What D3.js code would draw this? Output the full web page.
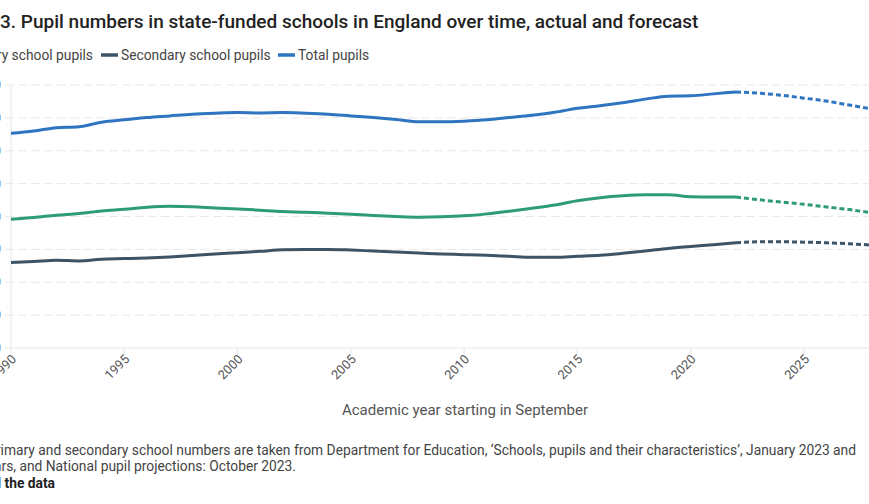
<!DOCTYPE html>
<html>
<head>
<meta charset="utf-8">
<script src="https://cdn.jsdelivr.net/npm/d3@7"></script>
<style>
  html, body { margin: 0; padding: 0; background: #fff; overflow: hidden; }
  svg { display: block; font-family: Roboto, "Noto Sans", sans-serif; }
</style>
</head>
<body>
<svg id="chart" width="869" height="504"></svg>
<script>
// pupil numbers, millions
const years = d3.range(1990, 2029);
const lastActual = 2022;

const primary = [3.92, 3.97, 4.04, 4.09, 4.17, 4.22, 4.28, 4.31, 4.30, 4.26,
  4.23, 4.19, 4.15, 4.13, 4.10, 4.07, 4.03, 4.00, 3.98, 3.99,
  4.02, 4.08, 4.16, 4.25, 4.35, 4.48, 4.57, 4.63, 4.66, 4.66,
  4.60, 4.59, 4.59, 4.51, 4.44, 4.37, 4.29, 4.21, 4.11];

const secondary = [2.60, 2.63, 2.67, 2.65, 2.70, 2.72, 2.74, 2.77, 2.81, 2.86,
  2.90, 2.94, 2.99, 3.00, 3.00, 2.98, 2.95, 2.92, 2.89, 2.86,
  2.84, 2.82, 2.79, 2.76, 2.76, 2.79, 2.82, 2.88, 2.95, 3.03,
  3.09, 3.14, 3.20, 3.23, 3.23, 3.22, 3.20, 3.17, 3.13];

const total = [6.53, 6.60, 6.70, 6.73, 6.87, 6.94, 7.01, 7.06, 7.11, 7.14,
  7.16, 7.15, 7.16, 7.14, 7.11, 7.06, 7.01, 6.95, 6.88, 6.88,
  6.90, 6.94, 7.01, 7.08, 7.17, 7.29, 7.37, 7.46, 7.57, 7.66,
  7.67, 7.73, 7.79, 7.75, 7.69, 7.60, 7.51, 7.39, 7.27];

const seriesNames = ["Primary school pupils", "Secondary school pupils", "Total pupils"];
const seriesColors = ["#2e9c74", "#3d5466", "#2e74c0"];
const yTicks = d3.range(0, 9);
const xTicks = d3.range(1990, 2030, 5);

const series = [primary, secondary, total].map((vals, i) => ({
  name: seriesNames[i],
  color: seriesColors[i],
  values: vals.map((v, j) => ({year: years[j], value: v}))
}));

const svg = d3.select('#chart');

const x = d3.scaleLinear().domain([1990, 2025]).range([11, 804]);
const y = d3.scaleLinear().domain([0, 8]).range([348, 85]);

// title, the left part falls outside the picture
const title = svg.append('text')
  .attr('y', 28)
  .attr('fill', '#222')
  .style('font-size', '19px')
  .style('font-weight', 500);
const pre = title.append('tspan').text('Figure ');
title.append('tspan').text('3. Pupil numbers in state-funded schools in England over time, actual and forecast');
title.attr('x', -pre.node().getComputedTextLength());

// legend
const legendPos = [{sw: -60, tx: 93, anchor: 'end'}, {sw: 101, tx: 121}, {sw: 278, tx: 298}];
const legend = svg.append('g');
series.forEach((s, i) => {
  const p = legendPos[i];
  if (p.anchor === 'end') {
    legend.append('text').attr('x', p.tx).attr('y', 60)
      .attr('text-anchor', 'end').attr('fill', '#444')
      .style('font-size', '13.8px').text(s.name);
  } else {
    legend.append('line').attr('x1', p.sw).attr('x2', p.sw + 17)
      .attr('y1', 55).attr('y2', 55)
      .attr('stroke', s.color).attr('stroke-width', 3.5);
    legend.append('text').attr('x', p.tx).attr('y', 60)
      .attr('fill', '#444').style('font-size', '13.8px').text(s.name);
  }
});

// grid
svg.append('g').selectAll('line')
  .data(yTicks.filter(d => d > 0))
  .join('line')
  .attr('x1', 5).attr('x2', 869)
  .attr('y1', d => y(d)).attr('y2', d => y(d))
  .attr('stroke', '#e8e8e8')
  .attr('stroke-dasharray', '9,4');

// y axis labels (cut off on the left)
svg.append('g').selectAll('text')
  .data(yTicks)
  .join('text')
  .attr('x', 1).attr('y', d => y(d) + 4)
  .attr('text-anchor', 'end')
  .attr('fill', '#555')
  .style('font-size', '12.5px')
  .text(d => d3.format(',')(d * 1000000));

svg.append('line')
  .attr('x1', x(1990)).attr('x2', x(1990))
  .attr('y1', y(8)).attr('y2', y(0))
  .attr('stroke', '#e6e6e6');

// x axis
svg.append('line')
  .attr('x1', 5).attr('x2', 869)
  .attr('y1', y(0)).attr('y2', y(0))
  .attr('stroke', '#e6e6e6');

svg.append('g').selectAll('line')
  .data(xTicks)
  .join('line')
  .attr('x1', d => x(d)).attr('x2', d => x(d))
  .attr('y1', y(0)).attr('y2', y(0) + 6)
  .attr('stroke', '#e6e6e6');

svg.append('g').selectAll('text')
  .data(xTicks)
  .join('text')
  .attr('transform', d => `translate(${x(d) + 6},${y(0) + 12}) rotate(-45)`)
  .attr('text-anchor', 'end')
  .attr('fill', '#555')
  .style('font-size', '12.8px')
  .text(d => d);

svg.append('text')
  .attr('x', 465).attr('y', 415)
  .attr('text-anchor', 'middle')
  .attr('fill', '#555')
  .style('font-size', '15px')
  .text('Academic year starting in September');

// lines
const line = d3.line().curve(d3.curveMonotoneX).x(d => x(d.year)).y(d => y(d.value));
const lines = svg.append('g');
series.forEach(s => {
  lines.append('path')
    .datum(s.values.filter(d => d.year <= lastActual))
    .attr('d', line)
    .attr('fill', 'none')
    .attr('stroke', s.color)
    .attr('stroke-width', 3)
    .attr('stroke-linejoin', 'round');
  lines.append('path')
    .datum(s.values.filter(d => d.year >= lastActual))
    .attr('d', line)
    .attr('fill', 'none')
    .attr('stroke', s.color)
    .attr('stroke-width', 3)
    .attr('stroke-dasharray', '5,3');
});

// source notes
const notes = [
  {text: 'Source: Primary and secondary school numbers are taken from Department for Education, \u2018Schools, pupils and their characteristics\u2019, January 2023 and', end: 856, y: 455, bold: false},
  {text: 'earlier years, and National pupil projections: October 2023.', end: 296, y: 471, bold: false},
  {text: 'Download the data', end: 55, y: 488, bold: true}
];
svg.append('g').selectAll('text')
  .data(notes)
  .join('text')
  .attr('x', d => d.end).attr('y', d => d.y)
  .attr('text-anchor', 'end')
  .attr('fill', d => d.bold ? '#222' : '#444')
  .style('font-size', '13.8px')
  .style('font-weight', d => d.bold ? 700 : 400)
  .text(d => d.text);
</script>
</body>
</html>
